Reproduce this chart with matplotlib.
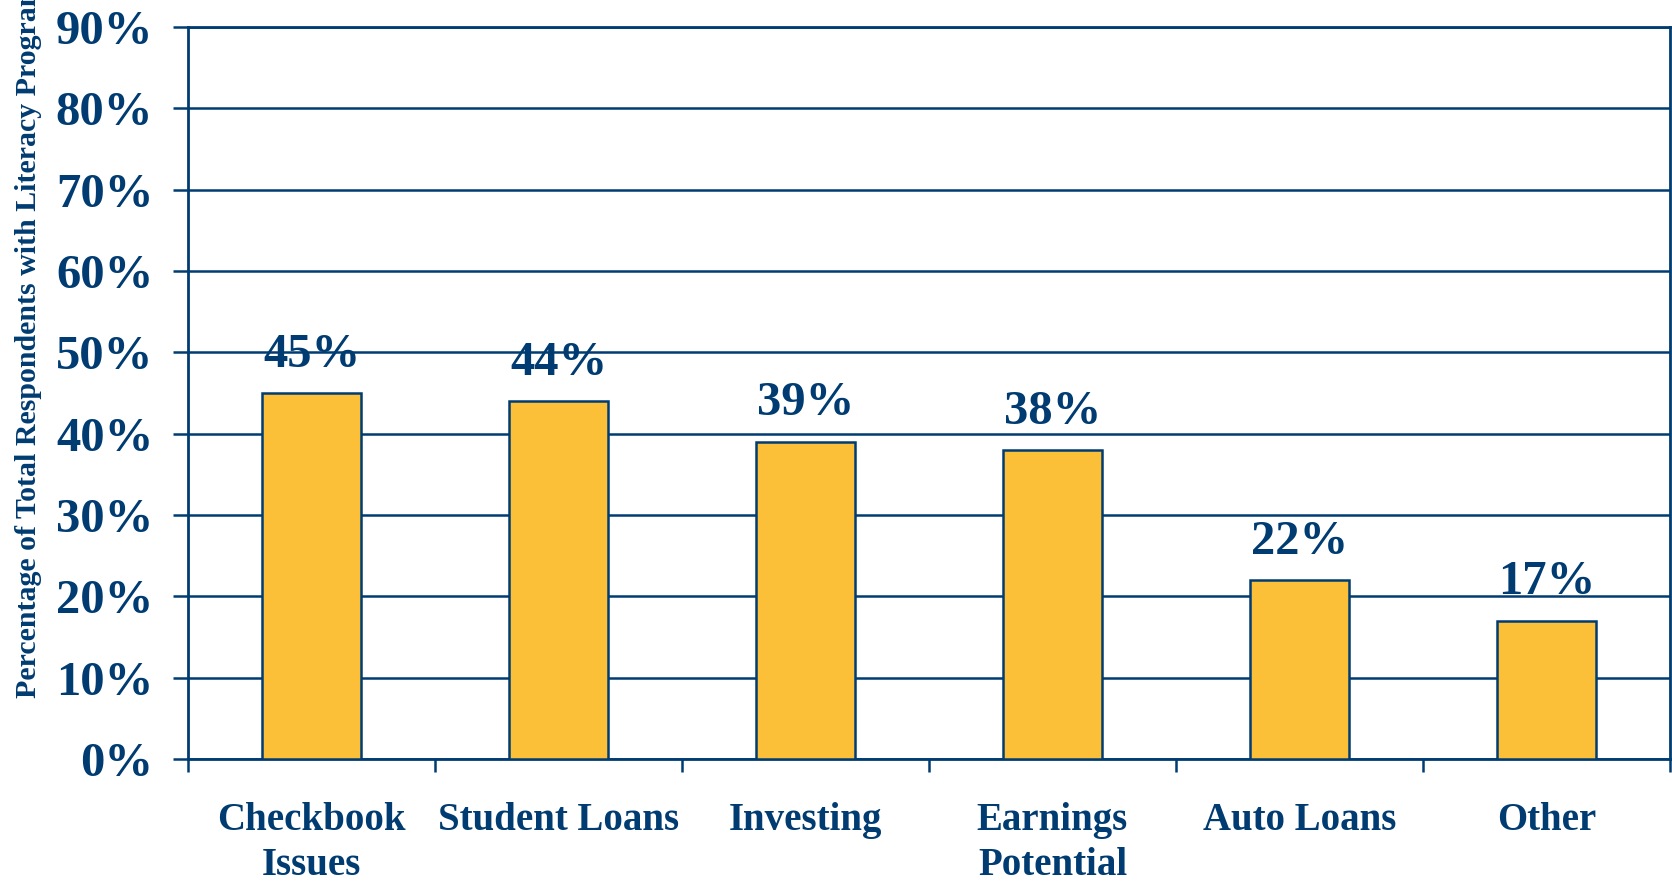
import matplotlib.pyplot as plt
import numpy as np

# data
categories = ['Checkbook\nIssues', 'Student Loans', 'Investing',
              'Earnings\nPotential', 'Auto Loans', 'Other']
values = [45, 44, 39, 38, 22, 17]
yticks = [0, 10, 20, 30, 40, 50, 60, 70, 80, 90]

navy = '#003C71'
gold = '#FBC037'

plt.rcParams['font.family'] = ['Liberation Serif', 'DejaVu Serif']
plt.rcParams['font.weight'] = 'bold'

fig = plt.figure(figsize=(16.72, 8.82), dpi=100)
ax = fig.add_axes([0.1124, 0.1395, 0.8864, 0.8299])

x = np.arange(len(categories))
bars = ax.bar(x, values, width=0.4, color=gold, edgecolor=navy,
              linewidth=1.8, zorder=3)

for xi, v in zip(x, values):
    ax.annotate(f'{v}%', (xi, v), xytext=(0, 19), textcoords='offset points',
                ha='center', va='baseline', fontsize=35, fontweight='bold',
                color=navy, zorder=4)

ax.set_xlim(-0.5, len(categories) - 0.5)
ax.set_ylim(0, 90)
ax.set_yticks(yticks)
ax.set_yticklabels([f'{t}%' for t in yticks], fontsize=35,
                   fontweight='bold', color=navy)
ax.yaxis.grid(True, color=navy, linewidth=1.8, zorder=1)
ax.set_axisbelow(True)

# category labels centered under bars, ticks between categories
ax.set_xticks(x)
ax.set_xticklabels(categories, fontsize=28, fontweight='bold', color=navy,
                   linespacing=1.3)
ax.tick_params(axis='x', which='major', length=0, pad=31)
ax.set_xticks(np.arange(-0.5, len(categories)), minor=True)
ax.tick_params(axis='x', which='minor', length=9, width=1.8, color=navy,
               direction='out')
ax.tick_params(axis='y', length=11, width=1.8, color=navy, direction='out',
               pad=14)

for s in ax.spines.values():
    s.set_color(navy)
    s.set_linewidth(2)

fig.text(0.009, 1 - 698 / 882,
         'Percentage of Total Respondents with Literacy Programs',
         rotation=90, ha='left', va='bottom', fontsize=21.5,
         fontweight='bold', color=navy)

fig.savefig('out.png', dpi=100)
